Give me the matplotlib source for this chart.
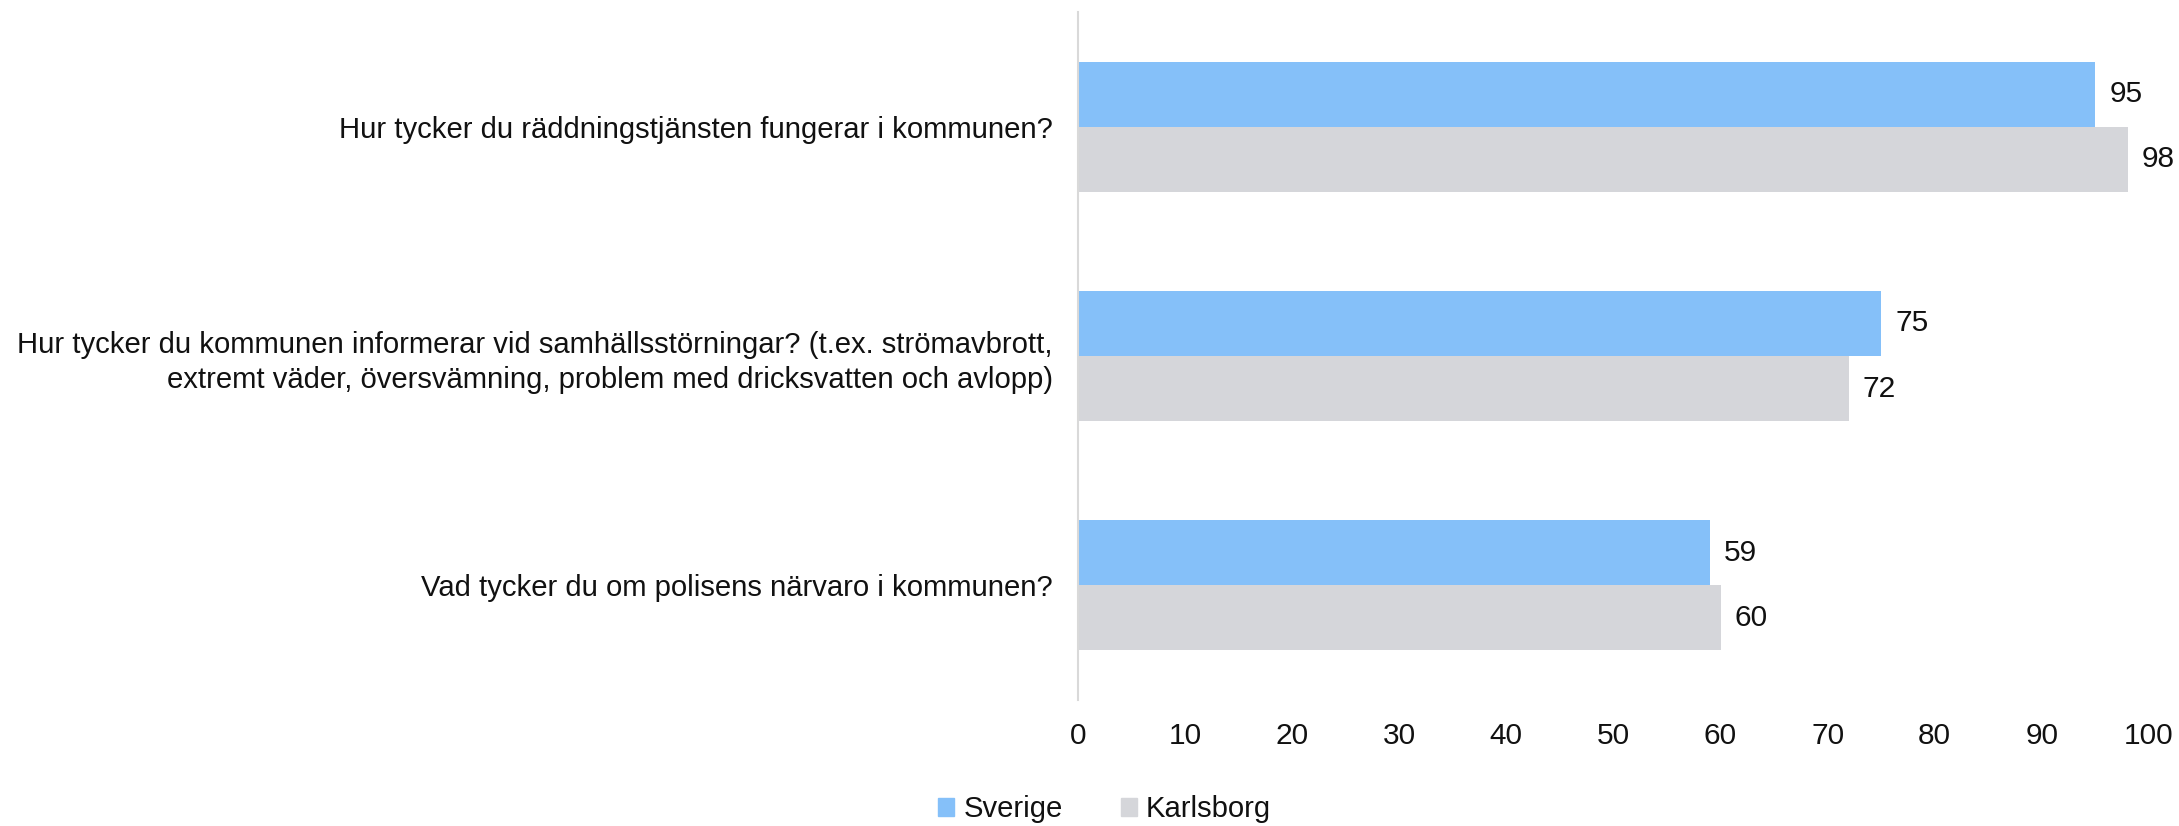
import numpy as np
import matplotlib.pyplot as plt
from matplotlib.patches import Patch

plt.rcParams['font.family'] = ['Liberation Sans', 'DejaVu Sans']
plt.rcParams['font.size'] = 21.1

questions = [
    'Hur tycker du räddningstjänsten fungerar i kommunen?',
    'Hur tycker du kommunen informerar vid samhällsstörningar? (t.ex. strömavbrott,\nextremt väder, översvämning, problem med dricksvatten och avlopp)',
    'Vad tycker du om polisens närvaro i kommunen?',
]
sverige = [95, 75, 59]
karlsborg = [98, 72, 60]
series_names = ['Sverige', 'Karlsborg']
colors = ['#85C0F9', '#D5D6DA']
text_col = '#111111'

fig = plt.figure(figsize=(21.79, 8.26), dpi=100)
ax = fig.add_axes([0.4947, 0.1525, 0.4915, 0.833])

y = np.arange(len(questions))
h = 0.284
b1 = ax.barh(y - h / 2, sverige, height=h, color=colors[0])
b2 = ax.barh(y + h / 2, karlsborg, height=h, color=colors[1])

for bars, vals in [(b1, sverige), (b2, karlsborg)]:
    for bar, v in zip(bars, vals):
        ax.annotate(str(v), (v, bar.get_y() + bar.get_height() / 2),
                    xytext=(10, 0), textcoords='offset points',
                    ha='left', va='center', fontsize=21.5, color=text_col)

ax.set_xlim(0, 100)
ax.set_ylim(len(questions) - 0.5, -0.5)
ax.set_xticks(range(0, 101, 10))
ax.set_yticks(y)
ax.set_yticklabels(questions, ha='right', linespacing=1.3)
ax.tick_params(axis='both', length=0, colors=text_col)
ax.tick_params(axis='x', pad=16, labelsize=21.5)
ax.tick_params(axis='y', pad=18)

for s in ['top', 'right', 'bottom']:
    ax.spines[s].set_visible(False)
ax.spines['left'].set_color('#D9D9D9')
ax.spines['left'].set_linewidth(1.5)

handles = [Patch(color=c, label=n) for c, n in zip(colors, series_names)]
fig.legend(handles=handles, loc='center', bbox_to_anchor=(0.507, 0.02),
           ncol=2, frameon=False, fontsize=21.1, handlelength=0.55,
           handleheight=0.55, handletextpad=0.3, columnspacing=2.0,
           labelcolor=text_col)

plt.savefig('out.png', dpi=100)
